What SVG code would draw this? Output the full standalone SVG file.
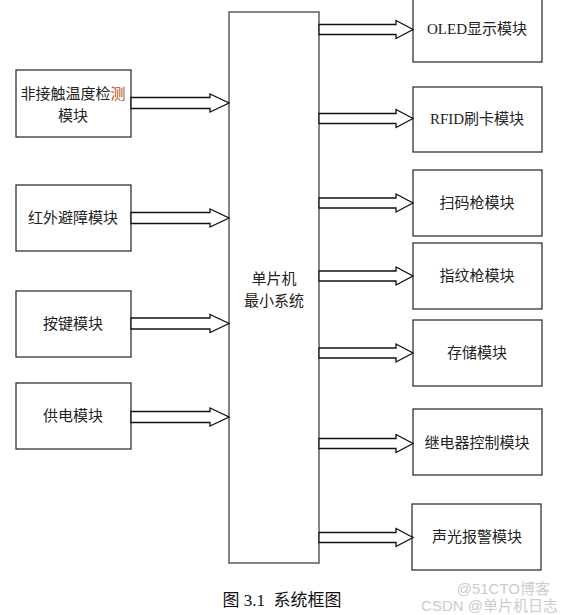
<svg xmlns="http://www.w3.org/2000/svg" width="564" height="615" viewBox="0 0 564 615">
<style>
.box{fill:#fff;stroke:#333;stroke-width:1.3}
.main{fill:#fff;stroke:#666;stroke-width:1.6}
.arr{fill:#fff;stroke:#111;stroke-width:1.3;stroke-linejoin:miter}
text{font-family:"Liberation Serif","Noto Sans CJK SC",serif;font-size:15px;fill:#222;text-anchor:middle}
.cap{font-size:17px;fill:#111}
.wm{font-family:"Liberation Sans","Noto Sans CJK SC",sans-serif;fill:#ccc;text-anchor:end}
</style>
<rect width="564" height="615" fill="#fff"/>
<g id="main">
<rect class="main" x="229" y="12" width="90" height="551"/>
<text x="274" y="284">单片机</text>
<text x="274" y="306">最小系统</text>
</g>
<g id="n-temp"><rect class="box" x="16" y="70" width="115" height="67"/><text x="73" y="99">非接触温度检<tspan fill="#b0501a">测</tspan></text><text x="73" y="121">模块</text></g>
<g id="n-ir"><rect class="box" x="16" y="185" width="115" height="66"/><text x="73" y="223">红外避障模块</text></g>
<g id="n-key"><rect class="box" x="16" y="291" width="115" height="66"/><text x="73" y="329">按键模块</text></g>
<g id="n-power"><rect class="box" x="16" y="383" width="115" height="66"/><text x="73" y="421">供电模块</text></g>
<g id="n-oled"><rect class="box" x="413" y="-4" width="129" height="66"/><text x="477" y="34">OLED显示模块</text></g>
<g id="n-rfid"><rect class="box" x="413" y="87" width="129" height="65"/><text x="477" y="124">RFID刷卡模块</text></g>
<g id="n-scan"><rect class="box" x="413" y="170" width="129" height="66"/><text x="477" y="208">扫码枪模块</text></g>
<g id="n-finger"><rect class="box" x="413" y="243" width="129" height="66"/><text x="477" y="281">指纹枪模块</text></g>
<g id="n-store"><rect class="box" x="413" y="320" width="129" height="66"/><text x="477" y="358">存储模块</text></g>
<g id="n-relay"><rect class="box" x="413" y="409" width="129" height="66"/><text x="477" y="448">继电器控制模块</text></g>
<g id="n-alarm"><rect class="box" x="412" y="504" width="129" height="66"/><text x="477" y="542">声光报警模块</text></g>
<g id="connectors">
<polygon class="arr" points="131,97.5 210,97.5 210,94 229,103 210,112 210,108.5 131,108.5"/>
<polygon class="arr" points="131,212.5 210,212.5 210,209 229,218 210,227 210,223.5 131,223.5"/>
<polygon class="arr" points="131,318 210,318 210,314.5 229,323.5 210,332.5 210,329 131,329"/>
<polygon class="arr" points="131,411.5 210,411.5 210,408 229,417 210,426 210,422.5 131,422.5"/>
<polygon class="arr" points="319,24.5 396,24.5 396,20.5 413,29.5 396,38.5 396,34.5 319,34.5"/>
<polygon class="arr" points="319,113.5 396,113.5 396,109.5 413,118.5 396,127.5 396,123.5 319,123.5"/>
<polygon class="arr" points="319,198 396,198 396,194 413,203 396,212 396,208 319,208"/>
<polygon class="arr" points="319,271 396,271 396,267 413,276 396,285 396,281 319,281"/>
<polygon class="arr" points="319,348 396,348 396,344 413,353 396,362 396,358 319,358"/>
<polygon class="arr" points="319,438.5 396,438.5 396,434.5 413,443.5 396,452.5 396,448.5 319,448.5"/>
<polygon class="arr" points="319,532.5 396,532.5 396,528.5 413,537.5 396,546.5 396,542.5 319,542.5"/>
</g>
<text class="cap" x="282" y="606" xml:space="preserve">图 3.1  系统框图</text>
<text class="wm" x="550" y="594" font-size="15px">@51CTO博客</text>
<text class="wm" x="558" y="611" font-size="10px" fill="#bbb">CSDN @单片机日志</text>
</svg>
